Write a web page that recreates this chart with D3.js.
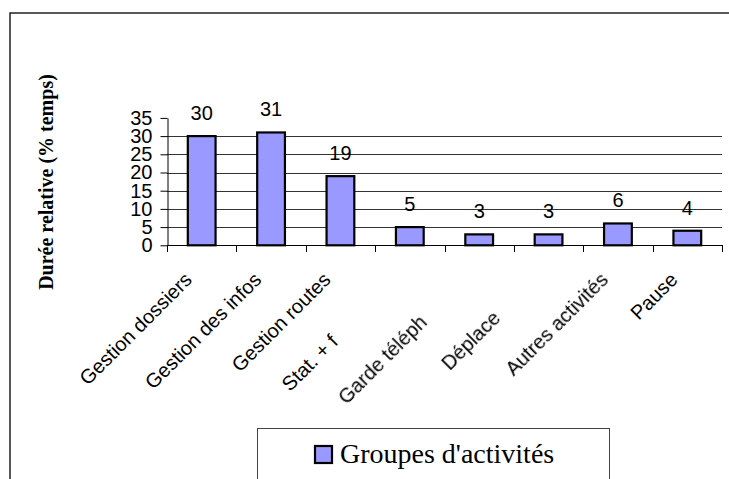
<!DOCTYPE html>
<html>
<head>
<meta charset="utf-8">
<script src="https://cdn.jsdelivr.net/npm/d3@7"></script>
<style>
  html, body { margin: 0; padding: 0; background: #fff; }
  svg { display: block; }
</style>
</head>
<body>
<svg id="chart" width="729" height="479"></svg>
<script>
// Activity groups and their share of working time (%)
const categories = [
  "Gestion dossiers",
  "Gestion des infos",
  "Gestion routes",
  "Stat. + facturation",
  "Garde téléphonique",
  "Déplacements",
  "Autres activités",
  "Pause"
];
const values = [30, 31, 19, 5, 3, 3, 6, 4];
const yTicks = [0, 5, 10, 15, 20, 25, 30, 35];
// How many characters of each category label stay visible (null = whole label)
const labelVisibleChars = [null, null, null, 9, 12, 7, null, null];
// Labels rendered softened
const softLabels = ["Garde téléphonique", "Déplacements", "Autres activités"];
const seriesName = "Groupes d'activités";
const yTitle = "Durée relative (% temps)";

const svg = d3.select("#chart");
const sans = "'Liberation Sans', Arial, sans-serif";
const serif = "'Liberation Serif', 'Times New Roman', serif";

const plot = { left: 167, right: 722, top: 117.9, bottom: 245.3 };

const x = d3.scaleBand()
  .domain(categories)
  .range([plot.left, plot.right])
  .paddingInner(0.6)
  .paddingOuter(0.3);

const y = d3.scaleLinear()
  .domain([0, 35])
  .range([plot.bottom, plot.top]);

// soft blur filter
const defs = svg.append("defs");
defs.append("filter").attr("id", "soft")
  .attr("x", "-10%").attr("y", "-10%").attr("width", "120%").attr("height", "120%")
  .append("feGaussianBlur").attr("stdDeviation", 0.75);

// outer frame
svg.append("rect")
  .attr("x", 10).attr("y", 13)
  .attr("width", 900).attr("height", 700)
  .attr("fill", "none")
  .attr("stroke", "#222")
  .attr("stroke-width", 1.5);

// horizontal gridlines
svg.append("g")
  .selectAll("line")
  .data(yTicks.filter(t => t > 0 && t < 35))
  .join("line")
  .attr("x1", plot.left).attr("x2", plot.right)
  .attr("y1", d => Math.round(y(d)) + 0.5)
  .attr("y2", d => Math.round(y(d)) + 0.5)
  .attr("stroke", "#333")
  .attr("stroke-width", 1);

// y axis
const yAxis = svg.append("g")
  .attr("transform", `translate(${plot.left + 0.5},0)`)
  .call(d3.axisLeft(y).tickValues(yTicks).tickSize(7).tickSizeOuter(0).tickPadding(8));
yAxis.selectAll("path, line").attr("stroke", "#000").attr("stroke-width", 1);
yAxis.selectAll("text")
  .attr("font-family", sans)
  .attr("font-size", 20)
  .attr("fill", "#000");

// x axis line and category boundary ticks
const xAxis = svg.append("g");
xAxis.append("line")
  .attr("x1", plot.left).attr("x2", plot.right + 0.5)
  .attr("y1", Math.round(y(0)) + 0.5).attr("y2", Math.round(y(0)) + 0.5)
  .attr("stroke", "#000");
const boundaries = d3.range(categories.length + 1).map(i => x.range()[0] + i * x.step());
xAxis.selectAll("line.tick")
  .data(boundaries)
  .join("line")
  .attr("class", "tick")
  .attr("x1", d => Math.round(d) + 0.5).attr("x2", d => Math.round(d) + 0.5)
  .attr("y1", Math.round(y(0))).attr("y2", Math.round(y(0)) + 7)
  .attr("stroke", "#000");

// bars
svg.append("g")
  .selectAll("rect")
  .data(values)
  .join("rect")
  .attr("x", (d, i) => x(categories[i]))
  .attr("y", d => y(d))
  .attr("width", x.bandwidth())
  .attr("height", d => y(0) - y(d))
  .attr("fill", "#9999ff")
  .attr("stroke", "#000")
  .attr("stroke-width", 2.2);

// value labels
svg.append("g")
  .selectAll("text")
  .data(values)
  .join("text")
  .attr("x", (d, i) => x(categories[i]) + x.bandwidth() / 2)
  .attr("y", d => y(d) - 16)
  .attr("text-anchor", "middle")
  .attr("font-family", sans)
  .attr("font-size", 20)
  .attr("fill", "#000")
  .text(d => d3.format("d")(d));

// rotated category labels, each ending just left of its bar centre
const labels = svg.append("g")
  .selectAll("text")
  .data(categories)
  .join("text")
  .attr("transform", d => `translate(${x(d) + x.bandwidth() / 2 - 8.5},281) rotate(-45)`)
  .attr("font-family", sans)
  .attr("font-size", 20)
  .attr("fill", "#000")
  .attr("filter", d => softLabels.includes(d) ? "url(#soft)" : null)
  .text(d => d);

labels.each(function (d, i) {
  const el = d3.select(this);
  const full = this.getComputedTextLength();
  const n = labelVisibleChars[i];
  el.attr("text-anchor", "start").attr("x", -full);
  if (n !== null) el.text(d.slice(0, n));
});

// y axis title
svg.append("text")
  .attr("transform", "translate(53,182) rotate(-90)")
  .attr("text-anchor", "middle")
  .attr("font-family", serif)
  .attr("font-weight", "bold")
  .attr("font-size", 20)
  .attr("fill", "#000")
  .text(yTitle);

// legend
const legend = svg.append("g");
legend.append("rect")
  .attr("x", 257.5).attr("y", 428.5)
  .attr("width", 352).attr("height", 80)
  .attr("fill", "#fff")
  .attr("stroke", "#444")
  .attr("stroke-width", 1);
legend.append("rect")
  .attr("x", 315).attr("y", 446)
  .attr("width", 17).attr("height", 17)
  .attr("fill", "#9999ff")
  .attr("stroke", "#000")
  .attr("stroke-width", 2.2);
legend.append("text")
  .attr("x", 340).attr("y", 463)
  .attr("font-family", serif)
  .attr("font-size", 28)
  .attr("fill", "#000")
  .text(seriesName);
</script>
</body>
</html>
